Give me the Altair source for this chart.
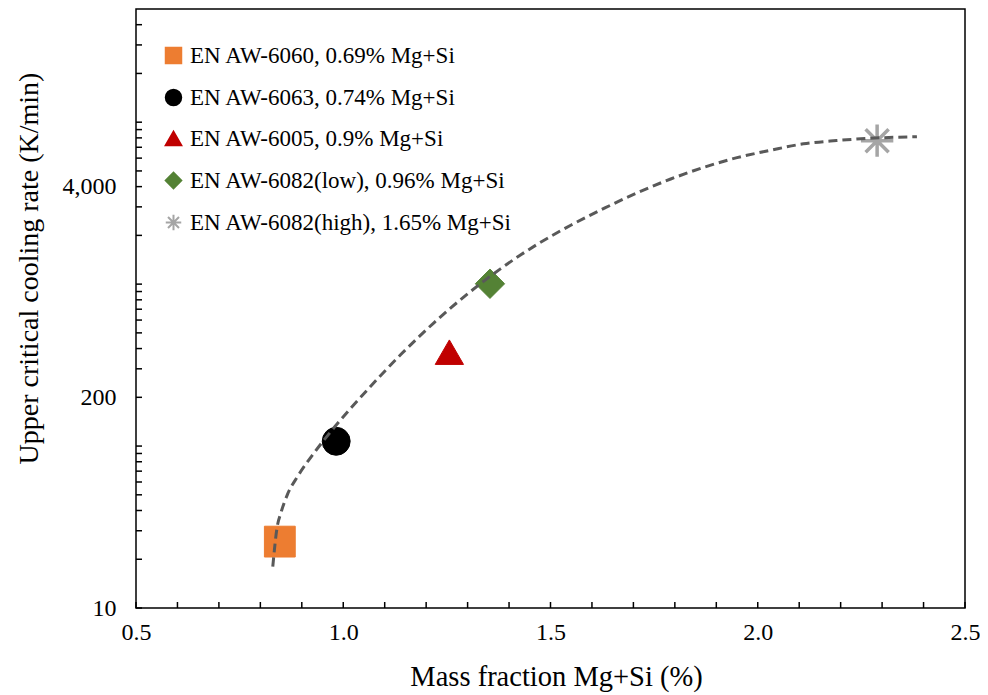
import altair as alt
import pandas as pd

series = [
    "EN AW-6060, 0.69% Mg+Si",
    "EN AW-6063, 0.74% Mg+Si",
    "EN AW-6005, 0.9% Mg+Si",
    "EN AW-6082(low), 0.96% Mg+Si",
    "EN AW-6082(high), 1.65% Mg+Si",
]
mass = [0.847, 0.983, 1.256, 1.354, 2.288]
rate = [25.7, 107, 380, 1005, 7690]
colors = ["#ED7D31", "#000000", "#C00000", "#548235", "#A5A5A5"]
asterisk = "M-1,0L1,0M0,-1L0,1M-0.71,-0.71L0.71,0.71M-0.71,0.71L0.71,-0.71"
shapes = ["square", "circle", "triangle-up", "diamond", asterisk]
sizes = [950, 780, 800, 860, 1050]
stroke_w = [1, 1, 1, 1, 3.5]

fit_x = [0.830, 0.840, 0.850, 0.865, 0.890, 0.930, 0.980, 1.060, 1.140, 1.220,
         1.300, 1.380, 1.470, 1.550, 1.630, 1.710, 1.790, 1.870, 1.950, 2.030,
         2.110, 2.190, 2.270, 2.384]
fit_y = [18, 31, 39, 50, 65, 91, 132, 225, 370, 581,
         871, 1247, 1774, 2317, 2944, 3673, 4457, 5260, 6040, 6700,
         7350, 7700, 7950, 8130]

y_major = [10, 200, 4000]
y_minor = [20, 30, 40, 50, 60, 70, 80, 90, 100,
           300, 400, 500, 600, 700, 800, 900, 1000, 2000, 3000,
           5000, 6000, 7000, 8000, 9000, 10000, 20000, 30000, 40000]
x_major = [0.5, 1.0, 1.5, 2.0, 2.5]
x_ticks = [0.5, 0.6, 0.7, 0.8, 0.9, 1.0, 1.1, 1.2, 1.3, 1.4, 1.5,
           1.6, 1.7, 1.8, 1.9, 2.0, 2.1, 2.2, 2.3, 2.4, 2.5]

W, H = 829, 599
FONT = "Liberation Serif"

pts = pd.DataFrame({"series": series, "mass": mass, "rate": rate})
fit = pd.DataFrame({"mass": fit_x, "rate": fit_y})
yt = pd.DataFrame({"mass": [0.5] * (len(y_major) + len(y_minor)), "rate": y_major + y_minor})
xt = pd.DataFrame({"mass": x_ticks, "rate": [10] * len(x_ticks)})

xs = alt.Scale(domain=[0.5, 2.5], nice=False, zero=False)
ys = alt.Scale(type="log", domain=[10, 50000], nice=False)

x_axis = alt.Axis(
    values=x_major, format=".1f", title="Mass fraction Mg+Si (%)",
    labelFontSize=24, titleFontSize=28.5, labelPadding=12, labelFlush=False,
    titleX=420, titleY=77, titleBaseline="alphabetic", titleAlign="center",
)
y_axis = alt.Axis(
    values=y_major, format=",", title="Upper critical cooling rate (K/min)",
    labelFontSize=24, titleFontSize=28, labelPadding=20, labelFlush=False,
    titleX=-99, titleY=259, titleAngle=270, titleBaseline="alphabetic",
    titleAlign="center",
)

X = alt.X("mass:Q", scale=xs, axis=x_axis)
Y = alt.Y("rate:Q", scale=ys, axis=y_axis)

color_enc = alt.Color("series:N", scale=alt.Scale(domain=series, range=colors),
                      legend=alt.Legend(title=None))
stroke_enc = alt.Stroke("series:N", scale=alt.Scale(domain=series, range=colors),
                        legend=alt.Legend(title=None))
shape_enc = alt.Shape("series:N", scale=alt.Scale(domain=series, range=shapes),
                      legend=alt.Legend(title=None))

point_layers = []
for s, sz, sw in zip(series, sizes, stroke_w):
    point_layers.append(
        alt.Chart(pts).transform_filter(alt.datum.series == s)
        .mark_point(filled=True, opacity=1, size=sz, strokeWidth=sw)
        .encode(x=X, y=Y, color=color_enc, stroke=stroke_enc, shape=shape_enc)
    )

curve = alt.Chart(fit).mark_line(
    color="#595959", strokeWidth=3, strokeDash=[9, 5], interpolate="monotone"
).encode(x=X, y=Y)

yticks = alt.Chart(yt).mark_rule(color="black", strokeWidth=1.5).encode(
    y=Y, x=alt.value(0), x2=alt.value(6),
)
xticks = alt.Chart(xt).mark_rule(color="black", strokeWidth=1.5).encode(
    x=X, y=alt.value(H), y2=alt.value(H - 6),
)

chart = alt.layer(*point_layers, curve, yticks, xticks).properties(
    width=W, height=H,
    autosize=alt.AutoSizeParams(type="none"),
    padding={"left": 128, "top": 1, "right": 15, "bottom": 86},
).configure_view(
    stroke="black", strokeWidth=1.5
).configure_axis(
    domain=False, ticks=False, grid=False,
    labelFont=FONT, titleFont=FONT, labelColor="black", titleColor="black",
    titleFontWeight="normal",
).configure_legend(
    orient="none", legendX=26, legendY=35, padding=0,
    symbolSize=240, symbolStrokeWidth=2, labelFont=FONT, labelFontSize=23,
    labelColor="black", labelLimit=600, rowPadding=17, labelOffset=5,
)

chart.save("out.html", embed_options={"renderer": "svg", "actions": False})
